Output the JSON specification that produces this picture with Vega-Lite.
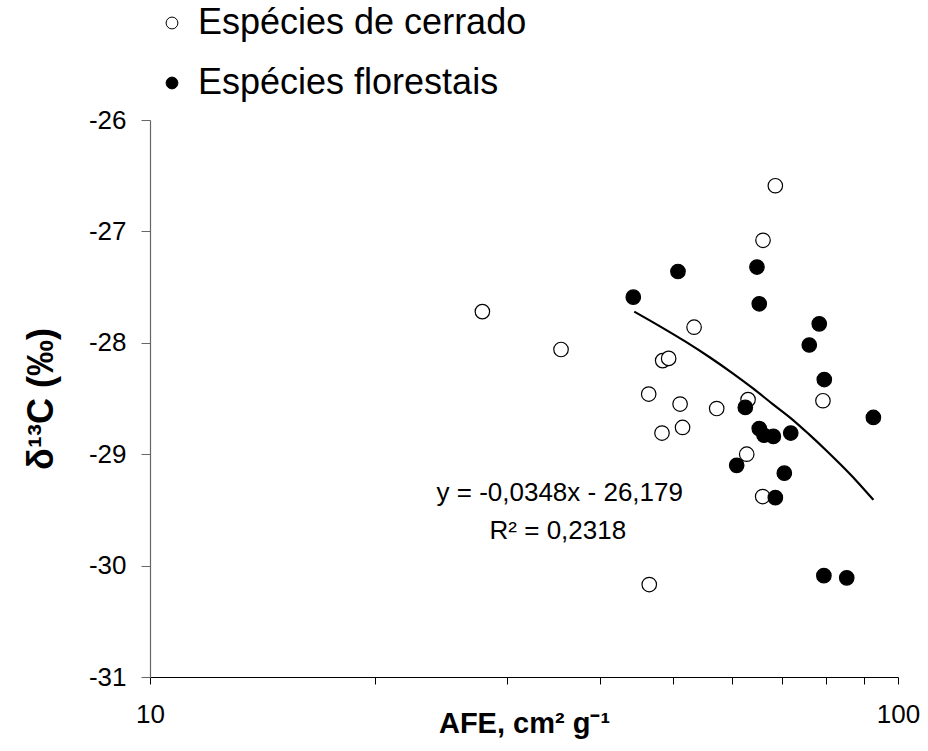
{
  "$schema": "https://vega.github.io/schema/vega-lite/v6.json",
  "width": 748,
  "height": 557,
  "autosize": {"type": "none"},
  "padding": {"left": 150, "top": 120, "right": 30, "bottom": 74},
  "background": "white",
  "config": {
    "view": {"stroke": null},
    "font": "Liberation Sans",
    "axis": {"grid": false, "labelFont": "Liberation Sans", "titleFont": "Liberation Sans", "labelColor": "black", "titleColor": "black"}
  },
  "datasets": {
    "pts": [
      {"serie": "Espécies de cerrado", "afe": 27.82, "d13c": -27.72},
      {"serie": "Espécies de cerrado", "afe": 35.44, "d13c": -28.06},
      {"serie": "Espécies de cerrado", "afe": 48.46, "d13c": -28.16},
      {"serie": "Espécies de cerrado", "afe": 49.36, "d13c": -28.14},
      {"serie": "Espécies de cerrado", "afe": 46.42, "d13c": -28.46},
      {"serie": "Espécies de cerrado", "afe": 51.13, "d13c": -28.55},
      {"serie": "Espécies de cerrado", "afe": 51.52, "d13c": -28.76},
      {"serie": "Espécies de cerrado", "afe": 48.36, "d13c": -28.81},
      {"serie": "Espécies de cerrado", "afe": 46.5, "d13c": -30.17},
      {"serie": "Espécies de cerrado", "afe": 53.38, "d13c": -27.86},
      {"serie": "Espécies de cerrado", "afe": 57.23, "d13c": -28.59},
      {"serie": "Espécies de cerrado", "afe": 63.03, "d13c": -28.51},
      {"serie": "Espécies de cerrado", "afe": 62.77, "d13c": -29.0},
      {"serie": "Espécies de cerrado", "afe": 65.93, "d13c": -29.38},
      {"serie": "Espécies de cerrado", "afe": 68.55, "d13c": -26.59},
      {"serie": "Espécies de cerrado", "afe": 66.0, "d13c": -27.08},
      {"serie": "Espécies de cerrado", "afe": 79.37, "d13c": -28.52},
      {"serie": "Espécies florestais", "afe": 44.27, "d13c": -27.59},
      {"serie": "Espécies florestais", "afe": 50.8, "d13c": -27.36},
      {"serie": "Espécies florestais", "afe": 64.78, "d13c": -27.32},
      {"serie": "Espécies florestais", "afe": 65.24, "d13c": -27.65},
      {"serie": "Espécies florestais", "afe": 78.47, "d13c": -27.83},
      {"serie": "Espécies florestais", "afe": 76.1, "d13c": -28.02},
      {"serie": "Espécies florestais", "afe": 79.7, "d13c": -28.33},
      {"serie": "Espécies florestais", "afe": 62.5, "d13c": -28.58},
      {"serie": "Espécies florestais", "afe": 92.7, "d13c": -28.67},
      {"serie": "Espécies florestais", "afe": 65.24, "d13c": -28.77},
      {"serie": "Espécies florestais", "afe": 66.2, "d13c": -28.83},
      {"serie": "Espécies florestais", "afe": 68.13, "d13c": -28.84},
      {"serie": "Espécies florestais", "afe": 71.88, "d13c": -28.81},
      {"serie": "Espécies florestais", "afe": 60.86, "d13c": -29.1},
      {"serie": "Espécies florestais", "afe": 70.47, "d13c": -29.17},
      {"serie": "Espécies florestais", "afe": 68.55, "d13c": -29.39},
      {"serie": "Espécies florestais", "afe": 79.6, "d13c": -30.09},
      {"serie": "Espécies florestais", "afe": 85.4, "d13c": -30.11}
    ],
    "curve": [
      {"afe": 44.4, "d13c": -27.72},
      {"afe": 48, "d13c": -27.85},
      {"afe": 52, "d13c": -27.99},
      {"afe": 56, "d13c": -28.13},
      {"afe": 60, "d13c": -28.27},
      {"afe": 64, "d13c": -28.41},
      {"afe": 68, "d13c": -28.55},
      {"afe": 72, "d13c": -28.68},
      {"afe": 76, "d13c": -28.82},
      {"afe": 80, "d13c": -28.96},
      {"afe": 84, "d13c": -29.10},
      {"afe": 88, "d13c": -29.24},
      {"afe": 92.7, "d13c": -29.41}
    ],
    "ann": [
      {"afe": 35.3, "d13c": -29.35, "txt": "y = -0,0348x - 26,179"},
      {"afe": 35.1, "d13c": -29.69, "txt": "R² = 0,2318"}
    ]
  },
  "layer": [
    {
      "data": {"name": "pts"},
      "mark": {"type": "point", "shape": "circle", "filled": true, "size": 210, "stroke": "black", "strokeWidth": 1.2, "opacity": 1},
      "encoding": {
        "x": {
          "field": "afe", "type": "quantitative",
          "scale": {"type": "log", "domain": [10, 100], "nice": false},
          "axis": {
            "title": "AFE, cm² g⁻¹",
            "titleFontSize": 29, "titleFontWeight": "bold",
            "titleY": 55, "titleBaseline": "alphabetic",
            "values": [10, 20, 30, 40, 50, 60, 70, 80, 90, 100],
            "labelExpr": "datum.value == 10 || datum.value == 100 ? format(datum.value, 'd') : ''",
            "labelFontSize": 26, "labelPadding": 17, "labelOverlap": false, "labelFlush": false,
            "tickSize": 7, "tickColor": "black", "domainColor": "black", "domainWidth": 1.2, "tickWidth": 1
          }
        },
        "y": {
          "field": "d13c", "type": "quantitative",
          "scale": {"domain": [-31, -26], "nice": false, "zero": false},
          "axis": {
            "title": "δ¹³C (‰)",
            "titleFontSize": 36, "titleFontWeight": "bold", "titlePadding": 28,
            "values": [-31, -30, -29, -28, -27, -26],
            "labelExpr": "'-' + format(abs(datum.value), 'd')",
            "labelFontSize": 26, "labelPadding": 15,
            "tickSize": 9, "tickColor": "#666", "domainColor": "#666", "domainWidth": 1.2
          }
        },
        "fill": {
          "field": "serie", "type": "nominal",
          "scale": {"domain": ["Espécies de cerrado", "Espécies florestais"], "range": ["white", "black"]},
          "legend": {
            "title": null, "orient": "none", "legendX": 4, "legendY": -115,
            "direction": "vertical",
            "labelFontSize": 36, "labelColor": "black", "labelOffset": 8, "labelLimit": 0,
            "symbolType": "circle", "symbolSize": 140, "symbolStrokeColor": "black", "symbolStrokeWidth": 1,
            "rowPadding": 24, "padding": 0
          }
        }
      }
    },
    {
      "data": {"name": "curve"},
      "mark": {"type": "line", "color": "black", "strokeWidth": 2.2, "interpolate": "monotone"},
      "encoding": {
        "x": {"field": "afe", "type": "quantitative"},
        "y": {"field": "d13c", "type": "quantitative"}
      }
    },
    {
      "data": {"name": "ann"},
      "mark": {"type": "text", "fontSize": 26, "color": "black", "align": "center", "baseline": "middle", "font": "Liberation Sans"},
      "encoding": {
        "x": {"field": "afe", "type": "quantitative"},
        "y": {"field": "d13c", "type": "quantitative"},
        "text": {"field": "txt"}
      }
    }
  ]
}
